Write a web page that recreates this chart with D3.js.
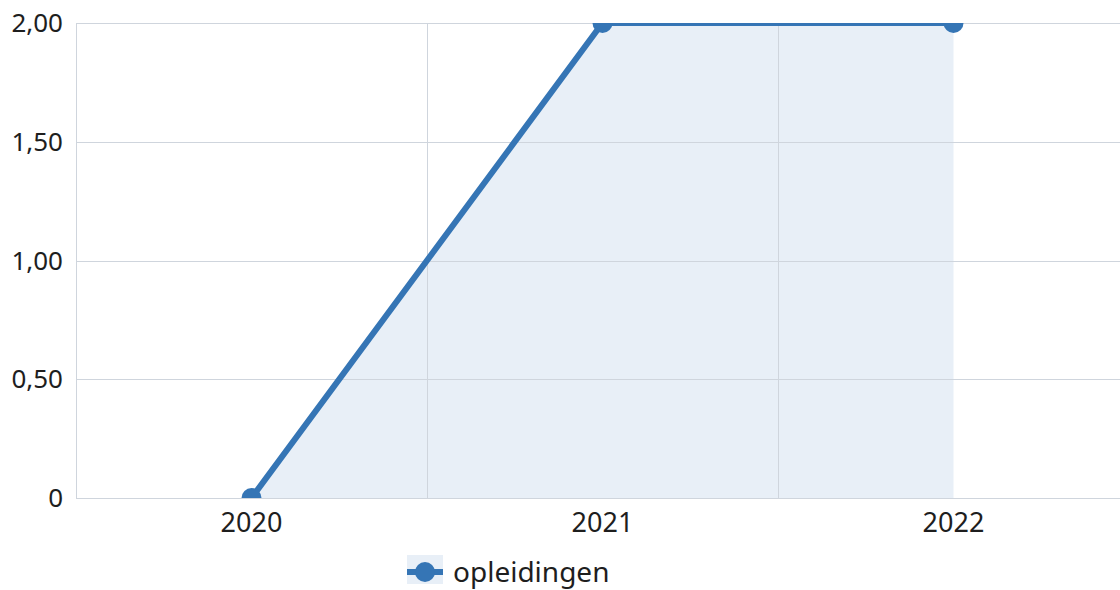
<!DOCTYPE html>
<html>
<head>
<meta charset="utf-8">
<script src="https://cdn.jsdelivr.net/npm/d3@7"></script>
<style>
  body { margin: 0; background: #fff; }
  svg { display: block; font-family: "Noto Sans", "Open Sans", sans-serif; }
</style>
</head>
<body>
<div id="chart"></div>
<script>
const years = ["2020", "2021", "2022"];
const opleidingen = [0, 2, 2];
const yTicks = [0, 0.5, 1, 1.5, 2];
const seriesName = "opleidingen";

const width = 1120, height = 590;
const plotLeft = 76, plotRight = 1129, plotTop = 23, plotBottom = 498;
const lineColor = "#3575b5";
const fillColor = "#e8eff7";
const gridColor = "#cfd5dd";
const textColor = "#1e1e1e";
const fontSize = 26;

const svg = d3.select("#chart").append("svg")
    .attr("width", width)
    .attr("height", height);

const x = d3.scaleBand().domain(years).range([plotLeft, plotRight]);
const y = d3.scaleLinear().domain([0, 2]).range([plotBottom, plotTop]);
const fmt = d => d === 0 ? "0" : d3.format(".2f")(d).replace(".", ",");

svg.append("clipPath").attr("id", "plot")
    .append("rect")
    .attr("x", plotLeft).attr("y", plotTop)
    .attr("width", plotRight - plotLeft).attr("height", plotBottom - plotTop);

const data = years.map((yr, i) => ({ year: yr, value: opleidingen[i] }));
const cx = d => x(d.year) + x.bandwidth() / 2;

// area under the line
svg.append("path")
    .datum(data)
    .attr("clip-path", "url(#plot)")
    .attr("fill", fillColor)
    .attr("d", d3.area().x(cx).y0(y(0)).y1(d => y(d.value)));

// horizontal grid
svg.append("g")
    .selectAll("line")
    .data(yTicks)
    .join("line")
    .attr("x1", plotLeft).attr("x2", width)
    .attr("y1", d => Math.round(y(d)) + 0.5).attr("y2", d => Math.round(y(d)) + 0.5)
    .attr("stroke", gridColor)
    .attr("stroke-width", 1);

// vertical grid between categories
svg.append("g")
    .selectAll("line")
    .data(years.slice(1))
    .join("line")
    .attr("x1", d => Math.round(x(d)) + 0.5).attr("x2", d => Math.round(x(d)) + 0.5)
    .attr("y1", plotTop).attr("y2", plotBottom)
    .attr("stroke", gridColor)
    .attr("stroke-width", 1);

// left axis line
svg.append("line")
    .attr("x1", plotLeft + 0.5).attr("x2", plotLeft + 0.5)
    .attr("y1", plotTop).attr("y2", plotBottom + 1)
    .attr("stroke", gridColor);

// y tick labels
svg.append("g")
    .selectAll("text")
    .data(yTicks)
    .join("text")
    .attr("x", 63)
    .attr("y", d => y(d))
    .attr("dy", "0.35em")
    .attr("text-anchor", "end")
    .attr("font-size", fontSize)
    .attr("fill", textColor)
    .text(fmt);

// x tick labels
svg.append("g")
    .selectAll("text")
    .data(years)
    .join("text")
    .attr("x", d => x(d) + x.bandwidth() / 2)
    .attr("y", 532)
    .attr("text-anchor", "middle")
    .attr("font-size", 27)
    .attr("fill", textColor)
    .text(d => d);

// line + markers
const g = svg.append("g").attr("clip-path", "url(#plot)");
g.append("path")
    .datum(data)
    .attr("fill", "none")
    .attr("stroke", lineColor)
    .attr("stroke-width", 6)
    .attr("stroke-linejoin", "round")
    .attr("d", d3.line().x(cx).y(d => y(d.value)));
g.selectAll("circle")
    .data(data)
    .join("circle")
    .attr("cx", cx)
    .attr("cy", d => y(d.value))
    .attr("r", 10)
    .attr("fill", lineColor);

// legend
const lg = svg.append("g").attr("transform", "translate(407,555)");
lg.append("rect").attr("width", 36).attr("height", 29).attr("fill", fillColor);
lg.append("line")
    .attr("x1", 0).attr("x2", 36).attr("y1", 17).attr("y2", 17)
    .attr("stroke", lineColor).attr("stroke-width", 6);
lg.append("circle").attr("cx", 18).attr("cy", 17).attr("r", 10).attr("fill", lineColor);
lg.append("text")
    .attr("x", 46).attr("y", 17)
    .attr("dy", "0.35em")
    .attr("font-size", 28)
    .attr("fill", textColor)
    .text(seriesName);
</script>
</body>
</html>
